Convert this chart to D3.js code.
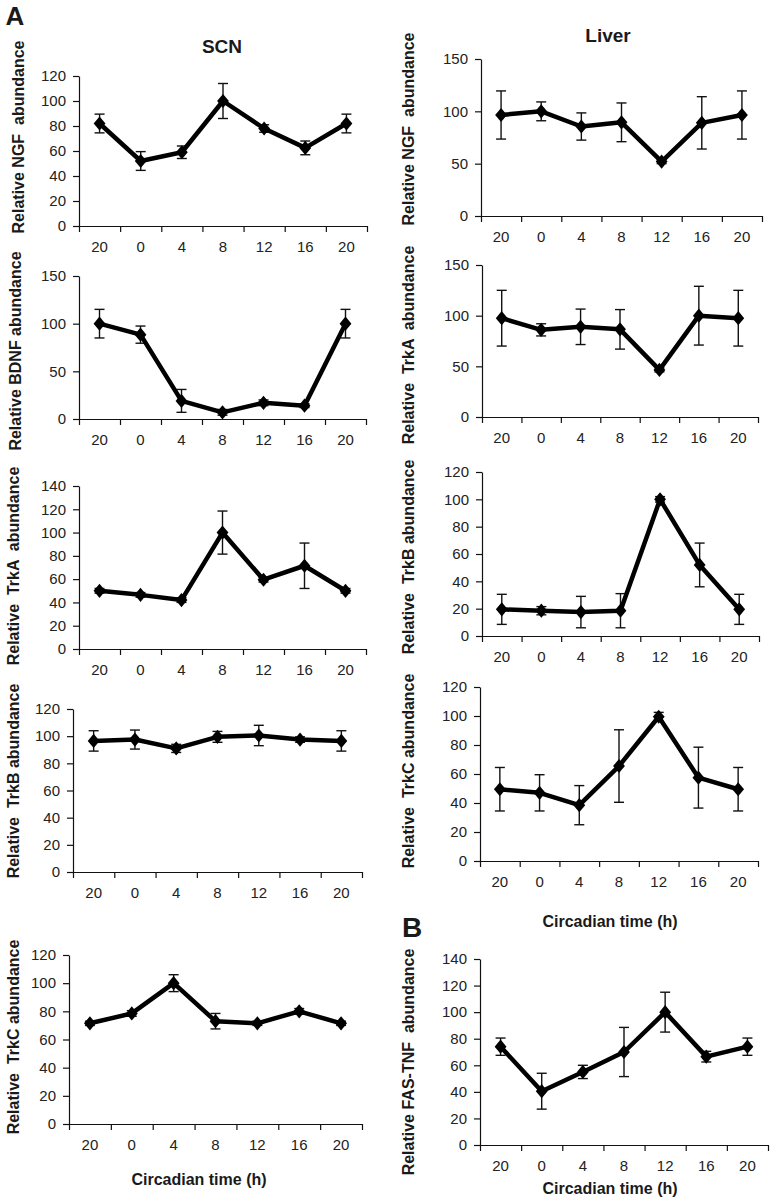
<!DOCTYPE html>
<html>
<head>
<meta charset="utf-8">
<script src="https://cdn.jsdelivr.net/npm/d3@7"></script>
<style>
  body { margin: 0; background: #fff; }
  svg { display: block; font-family: "Liberation Sans", Arial, sans-serif; }
  .axis path, .axis line { stroke: #111; stroke-width: 1.2; }
  .axis text { fill: #222; font-size: 15px; }
  .ylabel, .xtitle, .coltitle, .tag { fill: #1a1a1a; font-weight: bold; white-space: pre; }
</style>
</head>
<body>
<svg id="chart"></svg>
<script>
// circadian time points (h)
var timeLabels = ['20', '0', '4', '8', '12', '16', '20'];

// SCN
var scnNgf = [82, 52, 59, 100, 78, 62.5, 82];
var scnNgfErr = [7.5, 7.5, 5, 14, 3, 5.5, 7.5];
var scnBdnf = [100, 88.5, 19, 7, 17, 14, 100];
var scnBdnfErr = [15, 9, 12, 3, 3, 2, 15];
var scnTrkA = [50, 46.5, 42, 100, 59.5, 71.5, 50];
var scnTrkAErr = [2, 2, 2, 18.5, 2, 19.5, 2];
var scnTrkB = [96.5, 97.5, 91, 99.5, 100.5, 97.5, 96.5];
var scnTrkBErr = [7.5, 7, 3, 4, 7.5, 2, 7.5];
var scnTrkC = [71.5, 78.5, 100, 73, 71.5, 80, 71.5];
var scnTrkCErr = [1.5, 2, 6, 5.5, 1.5, 2, 1.5];

// Liver
var liverNgf = [96.5, 100, 85.5, 89.5, 52, 89, 96.5];
var liverNgfErr = [23, 9, 13, 18.5, 2, 25, 23];
var liverTrkA = [97.5, 86, 89, 86.5, 46.5, 100, 97.5];
var liverTrkAErr = [27.5, 6, 17.5, 19.5, 2, 29, 27.5];
var liverTrkB = [19.5, 18.5, 17.5, 18.5, 100, 52, 19.5];
var liverTrkBErr = [11, 3, 11.5, 12.5, 2, 16, 11];
var liverTrkC = [49.5, 47, 38.5, 65.5, 99.5, 57.5, 49.5];
var liverTrkCErr = [15, 12.5, 13.5, 25, 3, 21, 15];
var liverFasTnf = [74, 40.5, 55, 70, 100, 66.5, 74];
var liverFasTnfErr = [6.5, 13.5, 5, 18.5, 15, 4, 6.5];

document.addEventListener('DOMContentLoaded', () => {
  var svg = d3.select('#chart')
    .attr('width', 773)
    .attr('height', 1199);

  var panels = [
    { values: scnNgf, errors: scnNgfErr, yMax: 120, yStep: 20, label: 'Relative NGF  abundance',
      left: 79, right: 367, top: 76, bottom: 226, labelX: 18, labelY: 137 },
    { values: liverNgf, errors: liverNgfErr, yMax: 150, yStep: 50, label: 'Relative NGF  abundance',
      left: 481, right: 762, top: 59, bottom: 216, labelX: 408, labelY: 129 },
    { values: scnBdnf, errors: scnBdnfErr, yMax: 150, yStep: 50, label: 'Relative BDNF abundance',
      left: 79, right: 366, top: 276, bottom: 419, labelX: 15, labelY: 351 },
    { values: liverTrkA, errors: liverTrkAErr, yMax: 150, yStep: 50, label: 'Relative  TrkA  abundance',
      left: 482, right: 758, top: 265, bottom: 417, labelX: 408, labelY: 345 },
    { values: scnTrkA, errors: scnTrkAErr, yMax: 140, yStep: 20, label: 'Relative  TrkA  abundance',
      left: 79, right: 366, top: 486, bottom: 649, labelX: 13, labelY: 566 },
    { values: liverTrkB, errors: liverTrkBErr, yMax: 120, yStep: 20, label: 'Relative  TrkB abundance',
      left: 482, right: 759, top: 472, bottom: 636, labelX: 408, labelY: 557 },
    { values: scnTrkB, errors: scnTrkBErr, yMax: 120, yStep: 20, label: 'Relative  TrkB abundance',
      left: 73, right: 362, top: 709, bottom: 872, labelX: 13, labelY: 781 },
    { values: liverTrkC, errors: liverTrkCErr, yMax: 120, yStep: 20, label: 'Relative  TrkC abundance',
      left: 480, right: 758, top: 687, bottom: 861, labelX: 408, labelY: 771 },
    { values: scnTrkC, errors: scnTrkCErr, yMax: 120, yStep: 20, label: 'Relative  TrkC abundance',
      left: 69, right: 362, top: 955, bottom: 1124, labelX: 13, labelY: 1037 },
    { values: liverFasTnf, errors: liverFasTnfErr, yMax: 140, yStep: 20, label: 'Relative FAS-TNF  abundance',
      left: 480, right: 768, top: 959, bottom: 1145, labelX: 408, labelY: 1062 }
  ];

  // slightly tall diamond marker
  var diamond = {
    draw(ctx, size) {
      var h = Math.sqrt(size);
      ctx.moveTo(0, -h * 0.6);
      ctx.lineTo(h * 0.5, 0);
      ctx.lineTo(0, h * 0.6);
      ctx.lineTo(-h * 0.5, 0);
      ctx.closePath();
    }
  };

  var drawPanel = p => {
    var n = timeLabels.length;
    var x = d3.scaleBand()
      .domain(d3.range(n))
      .range([p.left, p.right]);
    var xEdge = d3.scaleLinear()
      .domain([0, n])
      .range([p.left, p.right]);
    var y = d3.scaleLinear()
      .domain([0, p.yMax])
      .range([p.bottom, p.top]);
    var cx = i => x(i) + x.bandwidth() / 2;

    var g = svg.append('g');

    g.append('g')
      .attr('class', 'axis')
      .attr('transform', `translate(${ p.left }, 0)`)
      .call(d3.axisLeft(y)
        .tickValues(d3.range(0, p.yMax + 1, p.yStep))
        .tickSize(6)
        .tickSizeOuter(0)
        .tickPadding(7));

    g.append('g')
      .attr('class', 'axis')
      .attr('transform', `translate(0, ${ p.bottom })`)
      .call(d3.axisBottom(xEdge)
        .tickValues(d3.range(n + 1))
        .tickSize(6)
        .tickSizeOuter(0)
        .tickFormat(''));

    g.append('g')
      .attr('class', 'axis')
      .attr('transform', `translate(0, ${ p.bottom })`)
      .call(d3.axisBottom(x)
        .tickSize(0)
        .tickPadding(15)
        .tickFormat(i => timeLabels[i]))
      .call(a => a.select('.domain').remove());

    // error bars
    var err = g.append('g')
      .attr('stroke', '#111')
      .attr('stroke-width', 1.4);
    p.values.forEach((v, i) => {
      var y0 = y(v - p.errors[i]);
      var y1 = y(v + p.errors[i]);
      err.append('line').attr('x1', cx(i)).attr('x2', cx(i)).attr('y1', y0).attr('y2', y1);
      err.append('line').attr('x1', cx(i) - 5).attr('x2', cx(i) + 5).attr('y1', y0).attr('y2', y0);
      err.append('line').attr('x1', cx(i) - 5).attr('x2', cx(i) + 5).attr('y1', y1).attr('y2', y1);
    });

    g.append('path')
      .datum(p.values)
      .attr('fill', 'none')
      .attr('stroke', '#000')
      .attr('stroke-width', 4.5)
      .attr('stroke-linejoin', 'round')
      .attr('d', d3.line().x((d, i) => cx(i)).y(d => y(d)));

    g.selectAll('.marker')
      .data(p.values)
      .enter().append('path')
        .attr('class', 'marker')
        .attr('fill', '#000')
        .attr('transform', (d, i) => `translate(${ cx(i) }, ${ y(d) })`)
        .attr('d', d3.symbol().type(diamond).size(140));

    g.append('text')
      .attr('class', 'ylabel')
      .attr('transform', `translate(${ p.labelX }, ${ p.labelY }) rotate(-90)`)
      .attr('text-anchor', 'middle')
      .attr('dy', '0.35em')
      .style('font-size', '16px')
      .text(p.label);
  };

  panels.forEach(drawPanel);

  var texts = [
    { t: 'A', x: 15, y: 16, size: 26, cls: 'tag' },
    { t: 'B', x: 412, y: 927, size: 28, cls: 'tag' },
    { t: 'SCN', x: 222, y: 46, size: 19, cls: 'coltitle' },
    { t: 'Liver', x: 608, y: 35, size: 19, cls: 'coltitle' },
    { t: 'Circadian time (h)', x: 199, y: 1179, size: 16, cls: 'xtitle' },
    { t: 'Circadian time (h)', x: 610, y: 921, size: 16, cls: 'xtitle' },
    { t: 'Circadian time (h)', x: 610, y: 1188, size: 16, cls: 'xtitle' }
  ];

  svg.selectAll('.label-text')
    .data(texts)
    .enter().append('text')
      .attr('class', d => d.cls)
      .attr('x', d => d.x)
      .attr('y', d => d.y)
      .attr('dy', '0.35em')
      .attr('text-anchor', 'middle')
      .style('font-size', d => `${ d.size }px`)
      .text(d => d.t);
});
</script>
</body>
</html>
